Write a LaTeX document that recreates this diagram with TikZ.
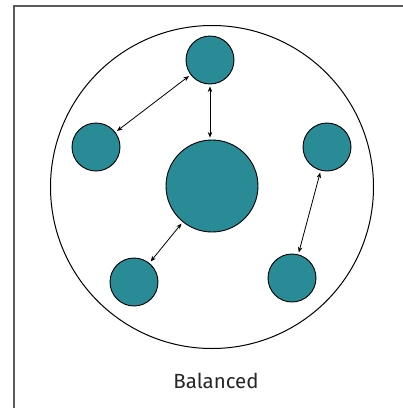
\documentclass[tikz,border=0pt]{standalone}
\usepackage{fontspec}
\setsansfont{Fira Sans}
\usetikzlibrary{arrows.meta}
\definecolor{teal1}{RGB}{40,139,149}
\definecolor{frame}{RGB}{90,90,90}
\begin{document}
\begin{tikzpicture}[x=1pt,y=-1pt,
  ball/.style={circle,draw=black,line width=0.9pt,fill=teal1,inner sep=0pt,minimum size=#1},
  link/.style={<->,>={Stealth[length=5.5pt,width=4.5pt]},line width=0.8pt,shorten <=2pt,shorten >=2pt}]
\useasboundingbox (0,0) rectangle (403,408);
\fill[white] (0,0) rectangle (403,408);
\draw[frame,line width=2pt] (14,410) -- (14,5.5) -- (405,5.5);
\node[circle,draw=black,line width=1pt,minimum size=323pt,inner sep=0pt] (outer) at (212,187) {};
\node[ball=92pt] (c) at (212,186) {};
\node[ball=48pt] (t) at (210,60) {};
\node[ball=48pt] (l) at (96,147) {};
\node[ball=48pt] (r) at (327,147) {};
\node[ball=48pt] (bl) at (134,282) {};
\node[ball=48pt] (br) at (292,278) {};
\coordinate (cn) at (t.south |- c.north);
\draw[link] (t) -- (l);
\draw[link] (t.south) -- (cn);
\draw[link] (c) -- (bl);
\draw[link] (r) -- (br);
\node[font=\sffamily,text=black!85] (lab) at (216,381) {\fontsize{20.5}{24}\selectfont Balanced};
\end{tikzpicture}
\end{document}
